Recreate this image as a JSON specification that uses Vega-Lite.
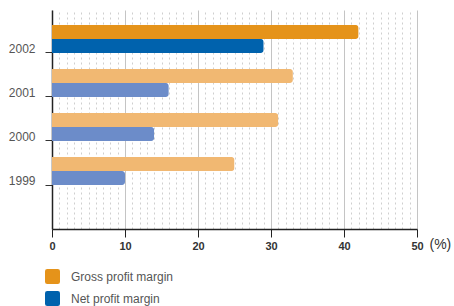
{
  "$schema": "https://vega.github.io/schema/vega-lite/v6.json",
  "width": 365,
  "height": 219,
  "autosize": {"type": "none"},
  "padding": {"left": 52, "top": 10, "right": 37, "bottom": 77},
  "background": "white",
  "config": {
    "view": {"stroke": null},
    "font": "Liberation Sans"
  },
  "data": {
    "values": [
      {"year": "2002", "series": "Gross profit margin", "value": 42},
      {"year": "2002", "series": "Net profit margin", "value": 29},
      {"year": "2001", "series": "Gross profit margin", "value": 33},
      {"year": "2001", "series": "Net profit margin", "value": 16},
      {"year": "2000", "series": "Gross profit margin", "value": 31},
      {"year": "2000", "series": "Net profit margin", "value": 14},
      {"year": "1999", "series": "Gross profit margin", "value": 25},
      {"year": "1999", "series": "Net profit margin", "value": 10}
    ]
  },
  "transform": [
    {"calculate": "datum.year === '2002' ? datum.series : datum.series + ' (earlier)'", "as": "tone"}
  ],
  "mark": {"type": "bar", "cornerRadiusEnd": 3},
  "encoding": {
    "x": {
      "field": "value",
      "type": "quantitative",
      "scale": {"domain": [0, 50], "nice": false},
      "axis": {
        "values": [0,1,2,3,4,5,6,7,8,9,10,11,12,13,14,15,16,17,18,19,20,21,22,23,24,25,26,27,28,29,30,31,32,33,34,35,36,37,38,39,40,41,42,43,44,45,46,47,48,49,50],
        "grid": true,
        "gridDash": {"condition": {"test": "datum.value % 10 === 0", "value": []}, "value": [2, 3]},
        "gridColor": {"condition": {"test": "datum.value % 10 === 0", "value": "#c4c4c4"}, "value": "#cfcfcf"},
        "gridWidth": 1,
        "tickOpacity": {"condition": {"test": "datum.value % 10 === 0", "value": 1}, "value": 0},
        "labelExpr": "datum.value % 10 === 0 ? datum.label : ''",
        "tickSize": 8,
        "tickColor": "#222",
        "domainColor": "#222",
        "domainWidth": 1.5,
        "labelFont": "Liberation Sans",
        "labelFontSize": 11,
        "labelFontWeight": "bold",
        "labelColor": "#333",
        "labelPadding": 3,
        "labelFlush": false,
        "title": "(%)",
        "titleFont": "Liberation Sans",
        "titleFontSize": 14,
        "titleFontWeight": "normal",
        "titleColor": "#333",
        "titleAlign": "left",
        "titleAnchor": "start",
        "titleBaseline": "alphabetic",
        "titleX": 377,
        "titleY": 19
      }
    },
    "y": {
      "field": "year",
      "type": "nominal",
      "sort": ["2002", "2001", "2000", "1999"],
      "scale": {"paddingInner": 0.364, "paddingOuter": 0.67, "align": 0.254},
      "axis": {
        "title": null,
        "bandPosition": 1,
        "tickSize": 7,
        "tickColor": "#333",
        "domainColor": "#222",
        "domainWidth": 1.5,
        "labelFont": "Liberation Sans",
        "labelFontSize": 12,
        "labelColor": "#555",
        "labelPadding": 10,
        "labelBaseline": "alphabetic",
        "labelOffset": 14,
        "grid": false
      }
    },
    "yOffset": {
      "field": "series",
      "type": "nominal",
      "sort": ["Gross profit margin", "Net profit margin"],
      "scale": {"paddingInner": 0, "paddingOuter": 0}
    },
    "color": {
      "field": "tone",
      "type": "nominal",
      "scale": {
        "domain": ["Gross profit margin", "Net profit margin", "Gross profit margin (earlier)", "Net profit margin (earlier)"],
        "range": ["#E5931A", "#0062AD", "#F1B872", "#6C8CC9"]
      },
      "legend": {
        "values": ["Gross profit margin", "Net profit margin"],
        "title": null,
        "orient": "none",
        "legendX": -7,
        "legendY": 259,
        "symbolType": "M-0.7,-1H0.7Q1,-1,1,-0.7V0.7Q1,1,0.7,1H-0.7Q-1,1,-1,0.7V-0.7Q-1,-1,-0.7,-1Z",
        "symbolSize": 225,
        "symbolStrokeWidth": 0,
        "symbolOpacity": 1,
        "rowPadding": 7,
        "labelOffset": 11,
        "labelFont": "Liberation Sans",
        "labelFontSize": 12,
        "labelColor": "#555"
      }
    }
  }
}
